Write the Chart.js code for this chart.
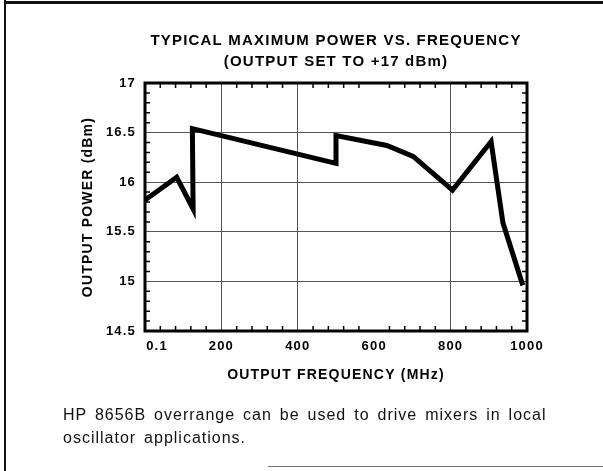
<!DOCTYPE html>
<html>
<head>
<meta charset="utf-8">
<script src="https://cdn.jsdelivr.net/npm/chart.js@4.4.1/dist/chart.umd.min.js"></script>
<style>
    body { margin: 0; background: #fff; }
    #page { position: relative; width: 603px; height: 471px; overflow: hidden; background: #fff; }
    #chart { position: absolute; left: 0; top: 0; }
    .frame-left { position: absolute; left: 4px; top: 0; width: 2px; height: 471px; background: #111; }
    .frame-top { position: absolute; left: 4px; top: 1px; width: 599px; height: 3px; background: #111; }
    .frame-bottom { position: absolute; left: 268px; top: 466px; width: 335px; height: 1px; background: #777; }
    .caption {
        position: absolute; left: 63px; top: 403px;
        font-family: 'Liberation Sans', Arial, sans-serif;
        font-size: 16px; line-height: 23px; color: #111;
        letter-spacing: 1px; word-spacing: 2.5px; white-space: nowrap;
    }
</style>
</head>
<body>
<div id="page">
    <canvas id="chart" width="603" height="471"></canvas>
    <div class="frame-left"></div>
    <div class="frame-top"></div>
    <div class="frame-bottom"></div>
    <div class="caption">HP 8656B overrange can be used to drive mixers in local<br>oscillator applications.</div>
</div>
<script>
// Chart data
const freqMHz = [0.1, 83, 126, 124, 500, 500, 633, 702, 805, 906, 937, 989];
const powerDbm = [15.82, 16.05, 15.73, 16.54, 16.19, 16.47, 16.37, 16.26, 15.92, 16.41, 15.59, 14.96];

// Axis ticks
const xTicks = [0, 200, 400, 600, 800, 1000];
const xTickLabels = ['     0.1', '200', '400', '600', '800', '1000'];
const yTicks = [14.5, 15, 15.5, 16, 16.5, 17];
const yTickLabels = ['14.5', '15', '15.5', '16', '16.5', '17'];

const titleLines = ['TYPICAL MAXIMUM POWER VS. FREQUENCY', '(OUTPUT SET TO +17 dBm)'];

Chart.defaults.font.family = "'Liberation Sans', Arial, sans-serif";
Chart.defaults.color = '#000';

// Old datasheet lettering is spaced out a bit
const letterSpacing = {
    id: 'letterSpacing',
    beforeUpdate(chart) { chart.ctx.letterSpacing = '1.2px'; },
    beforeDraw(chart) { chart.ctx.letterSpacing = '1.2px'; }
};

// Heavy plot frame plus small inward minor ticks
const plotFrame = {
    id: 'plotFrame',
    afterDatasetsDraw(chart) {
        const { ctx, chartArea: a, scales: { x, y } } = chart;
        ctx.save();
        ctx.strokeStyle = '#000';
        ctx.lineWidth = 1.5;
        ctx.beginPath();
        for (let f = 40; f < 1000; f += 40) {
            if (f % 200 === 0) continue;
            const px = x.getPixelForValue(f);
            ctx.moveTo(px, a.bottom); ctx.lineTo(px, a.bottom - 5);
            ctx.moveTo(px, a.top); ctx.lineTo(px, a.top + 5);
        }
        for (let i = 1; i < 25; i++) {
            if (i % 5 === 0) continue;
            const py = y.getPixelForValue(14.5 + i * 0.1);
            ctx.moveTo(a.left, py); ctx.lineTo(a.left + 5, py);
            ctx.moveTo(a.right, py); ctx.lineTo(a.right - 5, py);
        }
        ctx.stroke();
        ctx.lineWidth = 3;
        ctx.strokeRect(a.left, a.top, a.right - a.left, a.bottom - a.top);
        ctx.restore();
    }
};

const ctx = document.getElementById('chart').getContext('2d');
new Chart(ctx, {
    type: 'line',
    data: {
        datasets: [{
            data: freqMHz.map((f, i) => ({ x: f, y: powerDbm[i] })),
            borderColor: '#000',
            borderWidth: 5,
            borderJoinStyle: 'miter',
            borderCapStyle: 'butt',
            pointRadius: 0,
            tension: 0,
            fill: false
        }]
    },
    options: {
        responsive: false,
        animation: false,
        devicePixelRatio: 1,
        layout: { padding: { left: 76, right: 76, top: 0, bottom: 83 } },
        plugins: {
            legend: { display: false },
            tooltip: { enabled: false },
            title: {
                display: true,
                fullSize: false,
                text: titleLines,
                font: { size: 15, weight: 'bold', lineHeight: 1.4 },
                padding: { top: 30, bottom: 11 }
            }
        },
        scales: {
            x: {
                type: 'linear',
                min: 0,
                max: 1000,
                afterBuildTicks: scale => { scale.ticks = xTicks.map(v => ({ value: v })); },
                afterFit: scale => { scale.height = 57; },
                ticks: {
                    font: { size: 13, weight: 'bold' },
                    padding: 8,
                    maxRotation: 0,
                    callback: value => xTickLabels[xTicks.indexOf(value)]
                },
                grid: {
                    drawTicks: false,
                    lineWidth: 1,
                    color: c => (c.tick && c.tick.value === 600) ? 'rgba(0,0,0,0)' : '#555'
                },
                border: { display: false },
                title: {
                    display: true,
                    text: 'OUTPUT FREQUENCY (MHz)',
                    font: { size: 14, weight: 'bold' }
                }
            },
            y: {
                min: 14.5,
                max: 17,
                afterBuildTicks: scale => { scale.ticks = yTicks.map(v => ({ value: v })); },
                afterFit: scale => { scale.width = 69; },
                ticks: {
                    font: { size: 13, weight: 'bold' },
                    padding: 9,
                    callback: value => yTickLabels[yTicks.indexOf(value)]
                },
                grid: { drawTicks: false, lineWidth: 1, color: '#555' },
                border: { display: false },
                title: {
                    display: true,
                    text: 'OUTPUT POWER (dBm)',
                    font: { size: 14, weight: 'bold' }
                }
            }
        }
    },
    plugins: [letterSpacing, plotFrame]
});
</script>
</body>
</html>
